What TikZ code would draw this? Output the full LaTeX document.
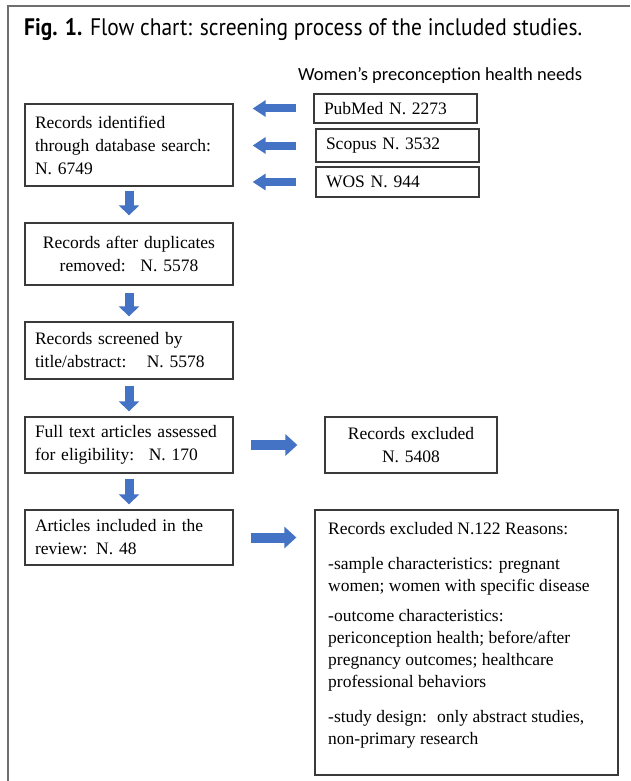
\documentclass[tikz,border=0pt]{standalone}
\usepackage{fontspec}
\setmainfont{Liberation Serif}
\newfontfamily\titlefont{PT Sans}
\newfontfamily\calfont{Carlito}
\usetikzlibrary{arrows.meta}
\definecolor{arrowblue}{HTML}{4472C4}
\definecolor{framegray}{HTML}{6E6E6E}
\definecolor{boxline}{HTML}{3A3A3A}
\begin{document}
\begin{tikzpicture}[x=1pt,y=-1pt,
  box/.style={draw=boxline, line width=1.3pt, font=\fontsize{17.5}{23}\selectfont, inner xsep=10pt, inner ysep=0pt},
  downarr/.style={arrowblue, line width=9pt, -{Triangle[length=10pt,width=20pt]}},
  leftarr/.style={arrowblue, line width=8pt, -{Triangle[length=13pt,width=16pt]}},
  rightarr/.style={arrowblue, line width=10pt, -{Triangle[length=12pt,width=21pt]}}
]
\useasboundingbox (0,0) rectangle (630,781);
\draw[framegray, line width=2pt] (630,6) -- (8,6) -- (8,781);

\node[anchor=base west, inner sep=0] (title) at (24,36)
  {\resizebox{558pt}{17pt}{\titlefont\textbf{Fig. 1.} Flow chart: screening process of the included studies.}};
\node[anchor=base west, inner sep=0] (sub) at (298,81)
  {\resizebox{284pt}{!}{\calfont\fontsize{17}{20}\selectfont Women’s preconception health needs}};

\node[box, minimum width=208pt, minimum height=82pt, text width=188pt, align=left] (ident) at (129,145)
  {Records identified\\through database search:\\N. 6749};
\node[box, minimum width=208pt, minimum height=62pt, text width=188pt, align=center] (dup) at (129,254)
  {Records after duplicates\\removed:~ N. 5578};
\node[box, minimum width=208pt, minimum height=57pt, text width=188pt, align=left] (screen) at (129,350.5)
  {Records screened by\\title/abstract:~~ N. 5578};
\node[box, minimum width=208pt, minimum height=56pt, text width=188pt, align=left] (full) at (129,445)
  {Full text articles assessed\\for eligibility:~ N. 170};
\node[box, minimum width=208pt, minimum height=55pt, text width=188pt, align=left] (incl) at (129,537.5)
  {Articles included in the\\review: N. 48};

\node[box, minimum width=163pt, minimum height=29pt, text width=143pt, align=left] (pub) at (395.5,108.5) {PubMed N. 2273};
\node[box, minimum width=163pt, minimum height=33pt, text width=143pt, align=left] (scop) at (397.5,145.5) {Scopus N. 3532};
\node[box, minimum width=163pt, minimum height=30pt, text width=143pt, align=left] (wos) at (397.5,182) {WOS N. 944};

\node[box, minimum width=172pt, minimum height=56pt, text width=152pt, align=center] (excl1) at (411,445)
  {Records excluded\\N. 5408};
\node[box, minimum width=303pt, minimum height=265pt] (excl2) at (466.5,642.5) {};
\node[font=\fontsize{17.5}{22}\selectfont, align=left, anchor=north west, inner sep=0pt] (excl2txt) at (328,522)
  {Records excluded N.122 Reasons:\\[13pt]
   -sample characteristics: pregnant\\
   women; women with specific disease\\[8pt]
   -outcome characteristics:\\
   periconception health; before/after\\
   pregnancy outcomes; healthcare\\
   professional behaviors\\[13pt]
   -study design:~ only abstract studies,\\
   non-primary research};

\draw[leftarr, shorten <=17pt, shorten >=19pt] (pub.west) -- (pub.west -| ident.east);
\draw[leftarr, shorten <=19pt, shorten >=19pt] (scop.west) -- (scop.west -| ident.east);
\draw[leftarr, shorten <=19pt, shorten >=19pt] (wos.west) -- (wos.west -| ident.east);

\draw[downarr, shorten <=4pt, shorten >=7pt] (ident) -- (dup);
\draw[downarr, shorten <=7pt, shorten >=5pt] (dup) -- (screen);
\draw[downarr, shorten <=6pt, shorten >=5pt] (screen) -- (full);
\draw[downarr, shorten <=5pt, shorten >=5pt] (full) -- (incl);

\draw[rightarr, shorten <=17pt, shorten >=27pt] (full) -- (excl1);
\draw[rightarr, shorten <=17pt, shorten >=18pt] (incl.east) -- (incl.east -| excl2.west);
\end{tikzpicture}
\end{document}
